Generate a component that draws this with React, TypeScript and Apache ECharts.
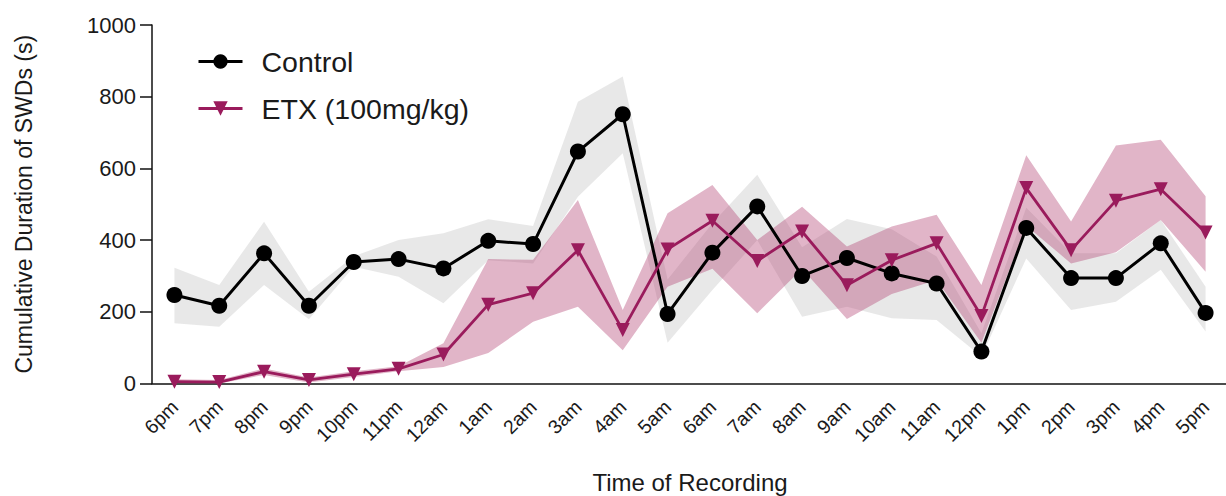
import React, { useEffect, useRef } from "react";
import * as echarts from "echarts";

const categories = ["6pm","7pm","8pm","9pm","10pm","11pm","12am","1am","2am","3am","4am","5am","6am","7am","8am","9am","10am","11am","12pm","1pm","2pm","3pm","4pm","5pm"];

const control = [247, 217, 363, 217, 339, 347, 321, 398, 389, 647, 751, 194, 365, 494, 300, 350, 307, 279, 89, 434, 294, 294, 391, 197];
const controlUpper = [323, 275, 451, 256, 355, 400, 419, 458, 439, 786, 856, 290, 447, 582, 380, 459, 430, 354, 140, 490, 363, 363, 456, 270];
const controlLower = [168, 158, 275, 179, 326, 298, 224, 344, 335, 521, 642, 114, 261, 400, 186, 214, 182, 177, 75, 349, 205, 228, 317, 145];

const etx = [5, 4, 33, 10, 26, 41, 81, 220, 252, 372, 149, 374, 454, 342, 424, 274, 344, 391, 188, 545, 372, 510, 542, 421];
const etxUpper = [12, 10, 42, 17, 34, 48, 112, 347, 345, 512, 205, 475, 554, 400, 493, 382, 438, 471, 275, 637, 452, 664, 680, 522];
const etxLower = [0, 0, 24, 3, 18, 34, 46, 85, 172, 214, 93, 270, 320, 196, 320, 180, 250, 289, 114, 440, 335, 366, 456, 312];

const yTicks = { min: 0, max: 1000, interval: 200 };

const FONT = "Liberation Sans, Arial, Helvetica, sans-serif";
const TXT = "#1a1a1a";
const PINK = "#9a1b5c";

function bandSeries(stack: string, lower: number[], upper: number[], color: string) {
  const hidden = {
    type: "line" as const,
    stack,
    symbol: "none",
    silent: true,
    lineStyle: { opacity: 0, width: 0 },
  };
  return [
    { ...hidden, name: stack + "_lo", data: lower },
    {
      ...hidden,
      name: stack + "_band",
      data: upper.map((u, i) => u - lower[i]),
      areaStyle: { color, opacity: 1 },
    },
  ];
}

export default function App() {
  const ref = useRef<HTMLDivElement>(null);
  useEffect(() => {
    if (!ref.current) return;
    const chart = echarts.init(ref.current, undefined, { renderer: "svg" });
    chart.setOption({
      animation: false,
      backgroundColor: "#ffffff",
      textStyle: { fontFamily: FONT },
      grid: {
        left: 152,
        top: 25,
        width: 1076,
        height: 358.5,
        containLabel: false,
        outerBoundsMode: "none",
      },
      legend: {
        data: ["Control", "ETX (100mg/kg)"],
        orient: "vertical",
        left: 197,
        top: 47,
        padding: 0,
        itemWidth: 44,
        itemHeight: 18,
        itemGap: 18,
        lineStyle: { width: 3 },
        textStyle: { fontSize: 28.5, color: TXT, fontFamily: FONT, padding: [0, 0, 0, 14] },
        selectedMode: false,
      },
      xAxis: {
        type: "category",
        data: categories,
        boundaryGap: true,
        name: "Time of Recording",
        nameLocation: "middle",
        nameGap: 87,
        nameTextStyle: { fontSize: 24, color: TXT, fontFamily: FONT },
        axisLine: { lineStyle: { color: "#111", width: 1.5 } },
        axisTick: { alignWithLabel: true, length: 14, lineStyle: { color: "#111", width: 1.5 } },
        axisLabel: { rotate: 45, fontSize: 19.5, color: TXT, margin: 20, interval: 0, fontFamily: FONT },
      },
      yAxis: {
        type: "value",
        min: yTicks.min,
        max: yTicks.max,
        interval: yTicks.interval,
        name: "Cumulative Duration of SWDs (s)",
        nameLocation: "middle",
        nameGap: 117,
        nameTextStyle: { fontSize: 23, color: TXT, fontFamily: FONT },
        splitLine: { show: false },
        axisLine: { show: true, lineStyle: { color: "#111", width: 1.5 } },
        axisTick: { show: true, length: 12, lineStyle: { color: "#111", width: 1.5 } },
        axisLabel: {
          fontSize: 22,
          color: TXT,
          margin: 16,
          fontFamily: FONT,
          formatter: (v: number) => String(v),
        },
      },
      series: [
        ...bandSeries("ctrl", controlLower, controlUpper, "rgba(150,150,150,0.22)"),
        ...bandSeries("etx", etxLower, etxUpper, "rgba(176,60,110,0.38)"),
        {
          name: "Control",
          type: "line",
          data: control,
          symbol: "circle",
          symbolSize: 16,
          itemStyle: { color: "#000" },
          lineStyle: { color: "#000", width: 3 },
          z: 5,
        },
        {
          name: "ETX (100mg/kg)",
          type: "line",
          data: etx,
          symbol: "triangle",
          symbolRotate: 180,
          symbolSize: 14,
          itemStyle: { color: PINK },
          lineStyle: { color: PINK, width: 2.8 },
          z: 6,
        },
      ],
    });
    return () => chart.dispose();
  }, []);
  return (
    <div
      ref={ref}
      style={{ position: "fixed", left: 0, top: 0, width: 1226, height: 496, background: "#fff" }}
    />
  );
}
